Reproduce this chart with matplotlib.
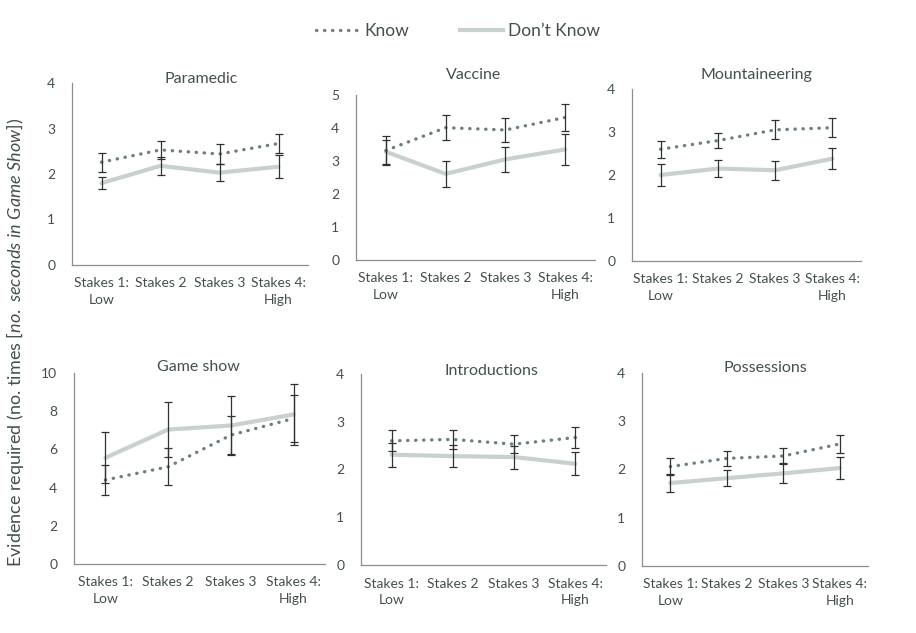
import matplotlib
matplotlib.use('Agg')
import matplotlib.pyplot as plt

plt.rcParams['font.family'] = ['Lato', 'DejaVu Sans']
plt.rcParams['mathtext.fontset'] = 'custom'
plt.rcParams['mathtext.rm'] = 'Lato'
plt.rcParams['mathtext.it'] = 'Lato:italic'

categories = ['Stakes 1:\nLow', 'Stakes 2', 'Stakes 3', 'Stakes 4:\nHigh']
panels = ['Paramedic', 'Vaccine', 'Mountaineering',
          'Game show', 'Introductions', 'Possessions']

know = {
    'Paramedic':      [2.26, 2.53, 2.44, 2.67],
    'Vaccine':        [3.32, 4.01, 3.94, 4.32],
    'Mountaineering': [2.60, 2.80, 3.05, 3.10],
    'Game show':      [4.40, 5.09, 6.75, 7.62],
    'Introductions':  [2.60, 2.63, 2.53, 2.67],
    'Possessions':    [2.06, 2.23, 2.28, 2.53],
}
know_err = {
    'Paramedic':      [0.21, 0.19, 0.21, 0.20],
    'Vaccine':        [0.45, 0.37, 0.35, 0.41],
    'Mountaineering': [0.20, 0.18, 0.22, 0.22],
    'Game show':      [0.78, 0.96, 1.00, 1.25],
    'Introductions':  [0.22, 0.20, 0.19, 0.22],
    'Possessions':    [0.18, 0.16, 0.17, 0.19],
}
dont_know = {
    'Paramedic':      [1.80, 2.18, 2.03, 2.16],
    'Vaccine':        [3.28, 2.61, 3.05, 3.35],
    'Mountaineering': [2.00, 2.15, 2.11, 2.38],
    'Game show':      [5.56, 7.04, 7.25, 7.83],
    'Introductions':  [2.31, 2.28, 2.26, 2.12],
    'Possessions':    [1.72, 1.82, 1.92, 2.03],
}
dont_know_err = {
    'Paramedic':      [0.14, 0.20, 0.19, 0.25],
    'Vaccine':        [0.37, 0.39, 0.37, 0.48],
    'Mountaineering': [0.25, 0.20, 0.22, 0.25],
    'Game show':      [1.34, 1.45, 1.55, 1.62],
    'Introductions':  [0.25, 0.23, 0.24, 0.24],
    'Possessions':    [0.18, 0.16, 0.21, 0.22],
}
y_max = {'Paramedic': 4, 'Vaccine': 5, 'Mountaineering': 4,
         'Game show': 10, 'Introductions': 4, 'Possessions': 4}
y_step = {'Paramedic': 1, 'Vaccine': 1, 'Mountaineering': 1,
          'Game show': 2, 'Introductions': 1, 'Possessions': 1}

TEXT = '#44504e'
KNOW_C = '#6e807c'
DK_C = '#c9d1ce'
ERR_C = '#2e3331'
SPINE = '#8a8f8d'

W, H = 916, 633
# plot areas in pixels: left, right, top, bottom
boxes = {
    'Paramedic':      (72, 308, 83, 265),
    'Vaccine':        (356, 595, 95, 260),
    'Mountaineering': (632, 861, 89, 261),
    'Game show':      (74, 325, 373, 564),
    'Introductions':  (361, 606, 374, 565),
    'Possessions':    (642, 868, 373, 566),
}
title_pos = {
    'Paramedic': (201, 79), 'Vaccine': (474, 75), 'Mountaineering': (756, 75),
    'Game show': (198, 367), 'Introductions': (491, 371), 'Possessions': (765, 368),
}

fig = plt.figure(figsize=(W / 100, H / 100), dpi=100)

x = list(range(len(categories)))
for name in panels:
    l, r, t, b = boxes[name]
    ax = fig.add_axes([l / W, 1 - b / H, (r - l) / W, (b - t) / H])
    ax.plot(x, dont_know[name], color=DK_C, lw=3.0, solid_capstyle='round', zorder=2)
    ax.plot(x, know[name], color=KNOW_C, lw=2.4, linestyle=(0, (0.1, 2.3)),
            dash_capstyle='round', zorder=3)
    ax.errorbar(x, dont_know[name], yerr=dont_know_err[name], fmt='none',
                ecolor=ERR_C, elinewidth=0.9, capsize=3, capthick=0.9, zorder=4)
    ax.errorbar(x, know[name], yerr=know_err[name], fmt='none',
                ecolor=ERR_C, elinewidth=0.9, capsize=3, capthick=0.9, zorder=4)
    ax.set_xlim(-0.5, 3.5)
    ax.set_ylim(0, y_max[name])
    ax.set_yticks(range(0, y_max[name] + 1, y_step[name]))
    ax.set_xticks(x)
    ax.set_xticklabels(categories, linespacing=1.45)
    ax.tick_params(axis='both', length=0, labelsize=10, colors=TEXT)
    ax.tick_params(axis='x', pad=9)
    ax.tick_params(axis='y', pad=12)
    for s in ['top', 'right']:
        ax.spines[s].set_visible(False)
    for s in ['left', 'bottom']:
        ax.spines[s].set_color(SPINE)
        ax.spines[s].set_linewidth(0.9)
    ax.set_facecolor('none')
    tx, ty = title_pos[name]
    fig.text(tx / W, 1 - ty / H, name, ha='center', va='center',
             fontsize=11.5, color=TEXT)

# legend
h_know, = plt.plot([], [], color=KNOW_C, lw=2.4, linestyle=(0, (0.1, 2.3)),
                   dash_capstyle='round')
h_dk, = plt.plot([], [], color=DK_C, lw=3.0)
fig.legend([h_know, h_dk], ['Know', 'Don\u2019t Know'], loc='center',
           bbox_to_anchor=(0.5, 1 - 31 / H), ncol=2, frameon=False,
           fontsize=12.5, labelcolor=TEXT, handlelength=2.5, columnspacing=2.9,
           handletextpad=0.3)

fig.text(15 / W, 1 - 342 / H,
         'Evidence required (no. times $\\mathit{[no.\\ seconds\\ in\\ Game\\ Show]}$)',
         rotation=90, ha='center', va='center', fontsize=13, color=TEXT)

fig.savefig('out.png', dpi=100)
